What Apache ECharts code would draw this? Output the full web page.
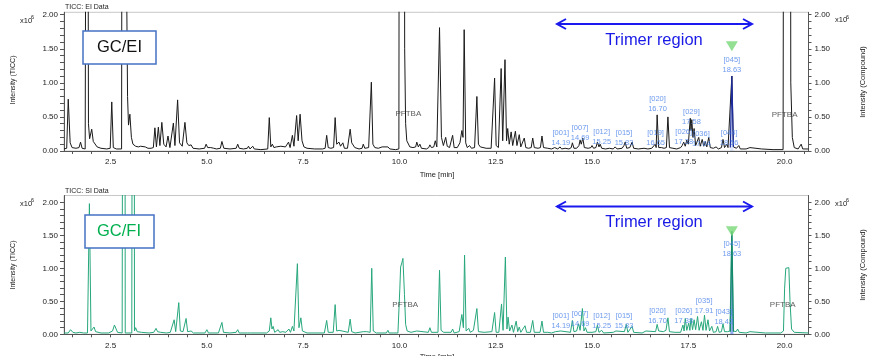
<!DOCTYPE html>
<html>
<head>
<meta charset="utf-8">
<script src="https://cdn.jsdelivr.net/npm/echarts@6/dist/echarts.min.js"></script>
<style>html,body{margin:0;padding:0;background:#fff;}#c{width:872px;height:356px;}</style>
</head>
<body>
<div id="c"></div>
<script>
// ---------- DATA (time [min], intensity x10^6) ----------
const xLabels = [2.5, 5.0, 7.5, 10.0, 12.5, 15.0, 17.5, 20.0];
const yLabels = [0, 0.5, 1.0, 1.5, 2.0];

// GC/EI total ion chromatogram (off-scale peaks exceed the axis)
const eiTrace = [
[1.29,0.03],[1.36,0.04],[1.40,0.76],[1.45,0.12],[1.50,0.05],[1.60,0.04],[1.68,0.05],[1.72,0.13],[1.76,0.04],[1.84,0.03],
[1.855,0.03],[1.89,12],[1.925,0.4],[1.955,0.18],[2.01,0.32],[2.05,0.14],[2.10,0.12],[2.15,0.06],[2.25,0.04],[2.40,0.03],
[2.49,0.04],[2.53,0.72],[2.57,0.05],[2.65,0.03],[2.785,0.03],[2.85,30],[2.915,2.5],[2.94,0.8],[2.965,0.38],[3.0,0.54],
[3.04,0.2],[3.08,0.1],[3.15,0.07],[3.22,0.06],[3.28,0.07],[3.33,0.05],[3.40,0.06],[3.47,0.04],[3.55,0.04],[3.61,0.05],
[3.65,0.34],[3.69,0.06],[3.74,0.35],[3.78,0.08],[3.83,0.42],[3.88,0.10],[3.94,0.06],[3.99,0.22],[4.04,0.05],[4.09,0.06],
[4.13,0.41],[4.17,0.08],[4.20,0.10],[4.24,0.75],[4.29,0.12],[4.36,0.07],[4.43,0.42],[4.48,0.12],[4.53,0.08],[4.59,0.09],
[4.64,0.04],[4.80,0.03],[4.94,0.04],[4.98,0.10],[5.02,0.05],[5.10,0.05],[5.18,0.04],[5.25,0.03],[5.35,0.04],[5.39,0.14],
[5.44,0.04],[5.60,0.03],[5.76,0.04],[5.80,0.10],[5.84,0.04],[5.95,0.03],[6.05,0.04],[6.08,0.07],[6.12,0.03],[6.17,0.04],
[6.19,0.07],[6.23,0.03],[6.40,0.02],[6.58,0.03],[6.62,0.49],[6.66,0.06],[6.70,0.10],[6.74,0.05],[6.80,0.06],[6.85,0.05],
[6.92,0.07],[6.97,0.05],[7.04,0.06],[7.09,0.05],[7.12,0.13],[7.16,0.05],[7.19,0.07],[7.22,0.23],[7.26,0.07],[7.29,0.09],
[7.33,0.52],[7.37,0.15],[7.42,0.54],[7.47,0.15],[7.52,0.06],[7.60,0.04],[7.80,0.03],[8.0,0.03],[8.07,0.04],[8.11,0.23],
[8.15,0.05],[8.22,0.04],[8.29,0.05],[8.33,0.49],[8.37,0.10],[8.43,0.13],[8.47,0.07],[8.53,0.12],[8.57,0.04],[8.65,0.04],
[8.72,0.32],[8.76,0.12],[8.79,0.13],[8.84,0.05],[8.95,0.03],[9.03,0.04],[9.06,0.10],[9.10,0.04],[9.15,0.06],[9.20,0.05],
[9.23,0.05],[9.27,1.01],[9.31,0.10],[9.36,0.05],[9.45,0.04],[9.55,0.06],[9.60,0.04],[9.70,0.06],[9.75,0.03],[9.90,0.02],
[9.985,0.03],[10.06,40],[10.135,1.5],[10.16,0.4],[10.19,0.15],[10.23,0.16],[10.27,0.06],[10.35,0.05],[10.42,0.06],[10.45,0.13],
[10.49,0.06],[10.53,0.10],[10.57,0.04],[10.70,0.03],[10.76,0.05],[10.79,0.09],[10.83,0.05],[10.89,0.06],[10.93,0.15],[10.97,0.06],
[11.00,0.08],[11.04,1.81],[11.09,0.2],[11.14,0.08],[11.20,0.20],[11.24,0.07],[11.30,0.05],[11.34,0.06],[11.38,0.23],[11.42,0.05],
[11.50,0.05],[11.57,0.12],[11.62,0.30],[11.65,0.2],[11.68,1.78],[11.72,0.12],[11.76,0.05],[11.82,0.08],[11.87,0.04],[11.95,0.05],
[12.01,0.80],[12.05,0.10],[12.10,0.06],[12.15,0.05],[12.25,0.04],[12.30,0.05],[12.38,0.04],[12.43,0.05],[12.47,1.07],[12.51,0.08],
[12.57,0.05],[12.60,0.06],[12.64,1.21],[12.68,0.15],[12.71,0.14],[12.74,1.34],[12.78,0.15],[12.81,0.33],[12.85,0.10],[12.90,0.28],
[12.94,0.08],[12.97,0.08],[13.01,0.29],[13.05,0.08],[13.11,0.24],[13.15,0.06],[13.20,0.07],[13.24,0.19],[13.28,0.05],[13.35,0.04],
[13.42,0.05],[13.46,0.19],[13.50,0.05],[13.60,0.04],[13.66,0.05],[13.70,0.22],[13.74,0.05],[13.85,0.04],[13.95,0.03],[14.03,0.05],
[14.07,0.07],[14.11,0.03],[14.17,0.06],[14.21,0.03],[14.30,0.04],[14.40,0.03],[14.46,0.05],[14.49,0.12],[14.53,0.04],[14.60,0.04],
[14.66,0.08],[14.69,0.16],[14.72,0.10],[14.76,0.19],[14.80,0.05],[14.90,0.04],[14.97,0.05],[15.00,0.08],[15.04,0.04],[15.10,0.05],
[15.14,0.13],[15.18,0.06],[15.21,0.10],[15.25,0.04],[15.35,0.03],[15.45,0.04],[15.55,0.03],[15.60,0.06],[15.65,0.03],[15.78,0.04],
[15.83,0.08],[15.86,0.13],[15.90,0.04],[15.98,0.05],[16.04,0.13],[16.08,0.04],[16.20,0.03],[16.35,0.04],[16.45,0.03],[16.55,0.04],
[16.60,0.05],[16.64,0.10],[16.665,0.05],[16.69,0.53],[16.73,0.05],[16.80,0.05],[16.87,0.04],[16.93,0.05],[16.97,0.50],[17.01,0.05],
[17.10,0.04],[17.20,0.03],[17.30,0.05],[17.34,0.08],[17.38,0.13],[17.42,0.07],[17.46,0.16],[17.50,0.10],[17.55,0.48],[17.57,0.30],
[17.59,0.46],[17.62,0.20],[17.65,0.33],[17.69,0.08],[17.73,0.10],[17.77,0.20],[17.81,0.07],[17.86,0.17],[17.90,0.07],[17.94,0.14],
[17.98,0.06],[18.03,0.20],[18.07,0.05],[18.15,0.04],[18.22,0.06],[18.28,0.03],[18.36,0.05],[18.40,0.17],[18.44,0.05],[18.50,0.10],
[18.53,0.05],[18.58,0.05],[18.63,1.10],[18.67,0.06],[18.75,0.04],[18.81,0.08],[18.85,0.03],[19.0,0.03],[19.10,0.05],[19.15,0.03],
[19.40,0.03],[19.70,0.02],[19.96,0.02],[19.99,0.03],[20.07,40],[20.16,1.0],[20.2,0.2],[20.25,0.05],[20.35,0.03],[20.40,0.05],
[20.43,0.10],[20.47,0.03],[20.62,0.03]
];

// GC/FI total ion chromatogram
const fiTrace = [
[1.29,0.02],[1.40,0.02],[1.46,0.07],[1.52,0.03],[1.60,0.02],[1.70,0.03],[1.80,0.02],[1.90,0.02],[1.95,1.98],[1.99,0.05],
[2.03,0.06],[2.07,0.11],[2.11,0.04],[2.25,0.02],[2.45,0.02],[2.55,0.05],[2.60,0.14],[2.64,0.13],[2.68,0.03],[2.80,0.02],
[2.83,0.02],[2.855,20],[2.88,0.02],[2.95,0.02],[3.05,0.02],[3.07,0.02],[3.095,20],[3.12,0.05],[3.15,0.10],[3.19,0.04],
[3.30,0.03],[3.50,0.02],[3.62,0.03],[3.68,0.09],[3.72,0.04],[3.76,0.05],[3.80,0.03],[3.95,0.02],[4.05,0.03],[4.10,0.04],
[4.15,0.22],[4.19,0.04],[4.23,0.05],[4.27,0.48],[4.31,0.05],[4.38,0.04],[4.46,0.24],[4.50,0.04],[4.59,0.05],[4.65,0.02],
[4.95,0.02],[5.0,0.07],[5.04,0.02],[5.30,0.02],[5.35,0.04],[5.39,0.18],[5.43,0.03],[5.60,0.02],[5.76,0.03],[5.80,0.07],
[5.84,0.02],[6.05,0.02],[6.09,0.04],[6.13,0.02],[6.55,0.02],[6.62,0.05],[6.66,0.25],[6.69,0.08],[6.72,0.12],[6.76,0.03],
[6.85,0.07],[6.89,0.03],[6.97,0.04],[7.05,0.03],[7.13,0.08],[7.17,0.03],[7.22,0.12],[7.26,0.05],[7.31,0.06],[7.35,1.07],
[7.39,0.10],[7.44,0.25],[7.48,0.05],[7.60,0.02],[8.05,0.02],[8.11,0.21],[8.15,0.03],[8.28,0.03],[8.33,0.45],[8.37,0.05],
[8.43,0.06],[8.47,0.03],[8.67,0.03],[8.72,0.23],[8.76,0.04],[8.85,0.02],[9.06,0.04],[9.15,0.04],[9.24,0.03],[9.28,1.00],
[9.32,0.05],[9.40,0.02],[9.66,0.02],[9.70,0.06],[9.73,0.02],[9.96,0.02],[9.99,0.05],[10.01,0.7],[10.03,1.02],[10.06,1.08],
[10.09,1.15],[10.11,1.12],[10.13,0.6],[10.16,0.15],[10.20,0.05],[10.30,0.03],[10.45,0.05],[10.50,0.02],[10.75,0.03],[10.79,0.10],
[10.83,0.03],[11.0,0.03],[11.04,0.97],[11.08,0.06],[11.15,0.03],[11.34,0.03],[11.38,0.08],[11.42,0.02],[11.55,0.04],[11.62,0.30],
[11.66,0.10],[11.69,1.20],[11.73,0.05],[11.80,0.09],[11.84,0.03],[11.92,0.06],[11.96,0.03],[12.01,0.39],[12.05,0.04],[12.20,0.03],
[12.40,0.04],[12.47,0.33],[12.51,0.03],[12.58,0.03],[12.65,0.46],[12.69,0.06],[12.75,1.17],[12.79,0.08],[12.82,0.26],[12.86,0.05],
[12.92,0.14],[12.96,0.03],[13.03,0.20],[13.07,0.04],[13.11,0.11],[13.15,0.03],[13.26,0.13],[13.30,0.03],[13.40,0.03],[13.46,0.21],
[13.50,0.03],[13.65,0.03],[13.70,0.20],[13.74,0.03],[13.85,0.03],[13.95,0.02],[14.05,0.04],[14.10,0.02],[14.19,0.05],[14.23,0.02],
[14.44,0.03],[14.49,0.21],[14.53,0.04],[14.60,0.05],[14.65,0.16],[14.69,0.06],[14.75,0.39],[14.79,0.05],[14.83,0.10],[14.87,0.03],
[15.0,0.03],[15.10,0.04],[15.14,0.14],[15.18,0.03],[15.25,0.06],[15.30,0.02],[15.55,0.03],[15.62,0.05],[15.66,0.02],[15.84,0.04],
[15.89,0.15],[15.93,0.03],[16.04,0.12],[16.08,0.03],[16.30,0.02],[16.40,0.05],[16.44,0.02],[16.65,0.04],[16.69,0.15],[16.73,0.05],
[16.85,0.04],[16.92,0.06],[16.97,0.25],[17.01,0.04],[17.15,0.03],[17.30,0.03],[17.36,0.14],[17.39,0.05],[17.42,0.24],[17.46,0.06],
[17.51,0.17],[17.54,0.06],[17.57,0.24],[17.61,0.07],[17.65,0.22],[17.69,0.07],[17.74,0.27],[17.78,0.06],[17.84,0.19],[17.88,0.06],
[17.92,0.29],[17.96,0.06],[18.01,0.22],[18.05,0.05],[18.11,0.12],[18.15,0.03],[18.22,0.04],[18.26,0.12],[18.30,0.03],[18.36,0.04],
[18.40,0.16],[18.44,0.04],[18.52,0.04],[18.58,0.05],[18.63,1.56],[18.67,0.05],[18.74,0.04],[18.78,0.08],[18.82,0.03],[19.0,0.02],
[19.1,0.04],[19.14,0.02],[19.5,0.02],[19.90,0.02],[19.97,0.05],[20.0,0.7],[20.03,1.0],[20.07,1.03],[20.11,1.01],[20.14,0.5],
[20.18,0.08],[20.25,0.03],[20.62,0.02]
];

// highlighted compound peak [045] 18.63
const eiCompound = [[18.59,0.05],[18.63,1.10],[18.67,0.06]];
const fiCompound = [[18.59,0.04],[18.63,1.56],[18.67,0.04]];

// compound annotations: [label, retention time, label level]
const eiAnnot = [
['[001]',14.19,0.19],['[007]',14.69,0.27],['[012]',15.25,0.205],['[015]',15.83,0.19],['[019]',16.65,0.19],
['[020]',16.70,0.69],['[026]',17.38,0.205],['[029]',17.58,0.50],['[036]',17.84,0.176],['[044]',18.56,0.19],['[045]',18.63,1.26]
];
const fiAnnot = [
['[001]',14.19,0.21],['[007]',14.69,0.23],['[012]',15.25,0.205],['[015]',15.83,0.205],['[020]',16.70,0.28],
['[026]',17.38,0.28],['[035]',17.91,0.425],['[043]',18.42,0.27],['[045]',18.63,1.29]
];
// PFTBA reference labels: [time, level]
const eiPftba = [[10.23,0.553],[20.0,0.53]];
const fiPftba = [[10.15,0.44],[19.95,0.44]];
// target marker (inverted triangle)
const eiMarker = [[18.63,1.538]];
const fiMarker = [[18.63,1.56]];

// ---------- CHART ----------
const FONT = 'Liberation Sans';
const xTicks = []; for (let v = 1.5; v <= 20.5; v += 0.5) xTicks.push(+v.toFixed(1));
const yTicks = []; for (let v = 0; v <= 2.0001; v += 0.1) yTicks.push(+v.toFixed(1));

const chart = echarts.init(document.getElementById('c'), null, {renderer: 'canvas'});

function xAx(gi) {
  return {
    gridIndex: gi, type: 'value', min: 1.29, max: 20.62,
    axisLine: {show: true, lineStyle: {color: '#555', width: 1}},
    axisTick: {show: true, customValues: xTicks, length: 3, lineStyle: {color: '#555'}},
    axisLabel: {customValues: xLabels, formatter: v => v.toFixed(1), fontSize: 8, color: '#222', margin: 7, fontFamily: FONT},
    splitLine: {show: false}
  };
}
function yAx(gi, max, pos) {
  return {
    gridIndex: gi, type: 'value', min: 0, max: max, position: pos,
    axisLine: {show: true, lineStyle: {color: '#555', width: 1}},
    axisTick: {show: true, customValues: yTicks, length: pos === 'left' ? 4 : 3, lineStyle: {color: '#555'}},
    axisLabel: {customValues: yLabels, formatter: v => v.toFixed(2), fontSize: 8, color: '#222', margin: 6, fontFamily: FONT},
    splitLine: {show: false}
  };
}
function annotSeries(arr, yi, xi) {
  return {
    type: 'scatter', xAxisIndex: xi, yAxisIndex: yi, symbolSize: 0, silent: true, z: 5,
    data: arr.map(a => ({name: a[0] + '\n' + a[1].toFixed(2), value: [a[1], a[2]]})),
    label: {show: true, position: 'inside', formatter: p => p.name, color: '#4a82ea', fontSize: 7.5, lineHeight: 10, fontFamily: FONT}
  };
}
function pftbaSeries(arr, yi, xi) {
  return {
    type: 'scatter', xAxisIndex: xi, yAxisIndex: yi, symbolSize: 0, silent: true, z: 5,
    data: arr.map(a => ({value: a})),
    label: {show: true, position: 'inside', formatter: 'PFTBA', color: '#333', fontSize: 8, fontFamily: FONT}
  };
}
function markerSeries(arr, yi, xi) {
  return {
    type: 'scatter', xAxisIndex: xi, yAxisIndex: yi, symbol: 'triangle', symbolRotate: 180,
    symbolSize: [12, 10], itemStyle: {color: '#78d878'}, data: arr, z: 6, silent: true
  };
}

const txt = (x, y, text, size, color, extra) => ({
  type: 'text', x: x, y: y, z: 100,
  style: Object.assign({text: text, fontSize: size, fontFamily: FONT, fill: color, align: 'left', verticalAlign: 'middle'}, extra || {})
});

function arrow(y) {
  return [
    {type: 'line', z: 100, shape: {x1: 557, y1: y, x2: 752, y2: y}, style: {stroke: '#1a1aee', lineWidth: 2}},
    {type: 'polyline', z: 100, shape: {points: [[566, y - 5], [557, y], [566, y + 5]]}, style: {stroke: '#1a1aee', lineWidth: 2, fill: null}},
    {type: 'polyline', z: 100, shape: {points: [[743, y - 5], [752, y], [743, y + 5]]}, style: {stroke: '#1a1aee', lineWidth: 2, fill: null}}
  ];
}
function sup(x, y) {
  return [txt(x, y, 'x10', 7.5, '#222'), txt(x + 11, y - 3, '6', 5.5, '#222')];
}
function vtext(x, y, text, size) {
  return {type: 'text', x: x, y: y, rotation: Math.PI / 2, z: 100,
    style: {text: text, fontSize: size, fontFamily: FONT, fill: '#222', align: 'center', verticalAlign: 'middle'}};
}

const graphics = [].concat(
  [txt(65, 7, 'TICC: EI Data', 7, '#222'), txt(65, 190.7, 'TICC: SI Data', 7, '#222')],
  sup(20, 20.5), sup(20, 203.5), sup(835, 20), sup(835, 203.5),
  [
    vtext(13.3, 80, 'Intensity (TICC)', 7),
    vtext(13.3, 265, 'Intensity (TICC)', 7),
    vtext(862.7, 82, 'Intensity (Compound)', 7.5),
    vtext(862.7, 265, 'Intensity (Compound)', 7.5),
    txt(437, 174.7, 'Time [min]', 7.5, '#222', {align: 'center'}),
    txt(437, 356.5, 'Time [min]', 7.5, '#222', {align: 'center'}),
    {type: 'rect', z: 100, shape: {x: 83, y: 31, width: 73, height: 33}, style: {fill: '#fff', stroke: '#4472c4', lineWidth: 1.5}},
    txt(119.5, 47.5, 'GC/EI', 16.5, '#111', {align: 'center'}),
    {type: 'rect', z: 100, shape: {x: 85, y: 215, width: 69, height: 33}, style: {fill: '#fff', stroke: '#4472c4', lineWidth: 1.5}},
    txt(119, 231.7, 'GC/FI', 16.5, '#00b050', {align: 'center'}),
    txt(654, 40, 'Trimer region', 16.5, '#1a1ae6', {align: 'center'}),
    txt(654, 222, 'Trimer region', 16.5, '#1a1ae6', {align: 'center'})
  ],
  arrow(24), arrow(206.5)
);

chart.setOption({
  animation: false,
  backgroundColor: '#fff',
  grid: [
    {left: 64, right: 63.5, top: 12.3, height: 138.7, show: true, borderColor: '#c8c8c8', borderWidth: 1},
    {left: 64, right: 63.5, top: 195.5, height: 138.8, show: true, borderColor: '#c8c8c8', borderWidth: 1}
  ],
  xAxis: [xAx(0), xAx(1)],
  yAxis: [yAx(0, 2.035, 'left'), yAx(0, 2.035, 'right'), yAx(1, 2.103, 'left'), yAx(1, 2.103, 'right')],
  series: [
    {type: 'line', xAxisIndex: 0, yAxisIndex: 0, data: eiTrace, showSymbol: false, symbol: 'none',
     lineStyle: {color: '#1a1a1a', width: 1}, silent: true, z: 2},
    {type: 'line', xAxisIndex: 0, yAxisIndex: 0, data: eiCompound, showSymbol: false, symbol: 'none',
     lineStyle: {color: '#1b2a9c', width: 1.2}, areaStyle: {color: 'rgba(120,160,240,0.35)'}, silent: true, z: 3},
    {type: 'line', xAxisIndex: 1, yAxisIndex: 2, data: fiTrace, showSymbol: false, symbol: 'none',
     lineStyle: {color: '#27a77c', width: 1}, silent: true, z: 2},
    {type: 'line', xAxisIndex: 1, yAxisIndex: 2, data: fiCompound, showSymbol: false, symbol: 'none',
     lineStyle: {color: '#15896a', width: 1.2}, areaStyle: {color: 'rgba(50,100,225,0.75)'}, silent: true, z: 3},
    annotSeries(eiAnnot, 0, 0), annotSeries(fiAnnot, 2, 1),
    pftbaSeries(eiPftba, 0, 0), pftbaSeries(fiPftba, 2, 1),
    markerSeries(eiMarker, 0, 0), markerSeries(fiMarker, 2, 1)
  ],
  graphic: graphics
});
</script>
</body>
</html>
